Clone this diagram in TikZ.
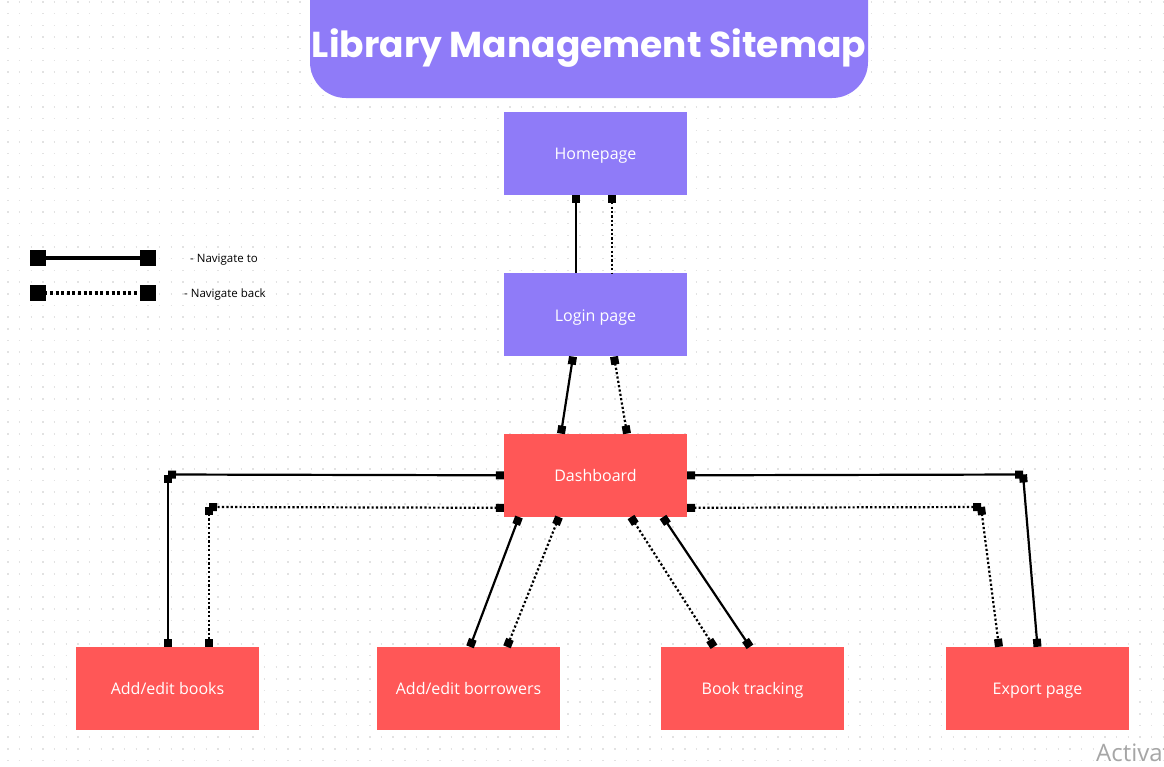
\documentclass[tikz,border=0pt]{standalone}
\usepackage{fontspec}
\setmainfont{Open Sans}
\newfontfamily\titlefont{Poppins}
\usetikzlibrary{arrows.meta,positioning}
\definecolor{lilac}{HTML}{8F7BF8}
\definecolor{coral}{HTML}{FF5757}
\definecolor{griddot}{HTML}{E2E2E2}

\begin{document}
\begin{tikzpicture}[x=1pt, y=-1pt,
        page/.style = {shape=rectangle, minimum width=183pt, minimum height=83pt,
        inner sep=0pt, text height=12.5pt, text depth=0pt, text=white,
        font=\fontsize{16}{19}\selectfont},
        upper/.style = {page, fill=lilac},
        lower/.style = {page, fill=coral},
        go/.style = {line width=2.2pt, {Square[length=8pt,width=8pt]}-{Square[length=8pt,width=8pt]}},
        back/.style = {go, dash pattern=on 2.2pt off 2.2pt},
        keygo/.style = {line width=3.4pt, {Square[length=16pt,width=16pt]}-{Square[length=16pt,width=16pt]}},
        keyback/.style = {keygo, dash pattern=on 3pt off 2.6pt},
        keytext/.style = {anchor=west, inner sep=0pt, text height=8pt, text depth=0pt,
        font=\fontsize{11.5}{13}\selectfont}]
    \useasboundingbox (0,0) rectangle (1164,766);
    \clip (0,0) rectangle (1164,766);
    \fill[white] (0,0) rectangle (1164,766);
    \foreach \r in {0,...,65}
        \draw[griddot, line width=1.5pt, dash pattern=on 1.5pt off 10.17pt]
            (7.25,2+\r*11.67) -- (1164,2+\r*11.67);

    \fill[lilac, rounded corners=36pt] (310,-80) rectangle (868,98);
    \node[text=white, font=\titlefont\bfseries\fontsize{36}{40}\selectfont] (title) at (589,48) {Library Management Sitemap};

    \node[upper] (home) at (595.5,153.5) {Homepage};
    \node[upper, below=78pt of home] (login) {Login page};
    \node[lower, below=77pt of login] (dash) {Dashboard};
    \node[lower] (books) at (167.5,688.5) {Add/edit books};
    \node[lower] (borrowers) at (468.5,688.5) {Add/edit borrowers};
    \node[lower] (tracking) at (752.5,688.5) {Book tracking};
    \node[lower] (export) at (1037.5,688.5) {Export page};

    \coordinate (bendA) at (168,474.5);
    \coordinate (bendB) at (209,507);
    \coordinate (bendC) at (1023,474.5);
    \coordinate (bendD) at (981,507);

    \draw[go, {Square[length=8pt,width=8pt]}-] ([xshift=-19.5pt]home.south) -- ([xshift=-19.5pt]login.north);
    \draw[back, {Square[length=8pt,width=8pt]}-] ([xshift=16.5pt]home.south) -- ([xshift=16.5pt]login.north);
    \draw[go] ([xshift=-22.5pt]login.south) -- ([xshift=-34.5pt]dash.north);
    \draw[back] ([xshift=18.5pt]login.south) -- ([xshift=31.5pt]dash.north);

    \draw[go] (dash.west) -- (bendA);
    \draw[go] (bendA) -- ([xshift=0.5pt]books.north);
    \draw[back] ([yshift=-32.5pt]dash.west) -- (bendB);
    \draw[back] (bendB) -- ([xshift=41.5pt]books.north);

    \draw[go] ([xshift=-76.5pt]dash.south) -- ([xshift=1.5pt]borrowers.north);
    \draw[back] ([xshift=-36.5pt]dash.south) -- ([xshift=38.5pt]borrowers.north);
    \draw[back] ([xshift=35.5pt]dash.south) -- ([xshift=-38.5pt]tracking.north);
    \draw[go] ([xshift=67.5pt]dash.south) -- ([xshift=-2.5pt]tracking.north);

    \draw[go] (dash.east) -- (bendC);
    \draw[go] (bendC) -- (export.north);
    \draw[back] ([yshift=-32.5pt]dash.east) -- (bendD);
    \draw[back] (bendD) -- ([xshift=-38.5pt]export.north);

    \coordinate (keyA) at (30,258);
    \coordinate (keyB) at (156,258);
    \coordinate (keyC) at (30,293);
    \coordinate (keyD) at (156,293);
    \draw[keygo] (keyA) -- (keyB);
    \draw[keyback] (keyC) -- (keyD);
    \node[keytext] (keyto) at (190,258) {- Navigate to};
    \node[keytext] (keyfrom) at (184,293) {- Navigate back};

    \node[anchor=west, inner sep=0pt, text=black!35, font=\fontsize{24}{28}\selectfont] (winmark) at (1096,753) {Activat};
\end{tikzpicture}
\end{document}
